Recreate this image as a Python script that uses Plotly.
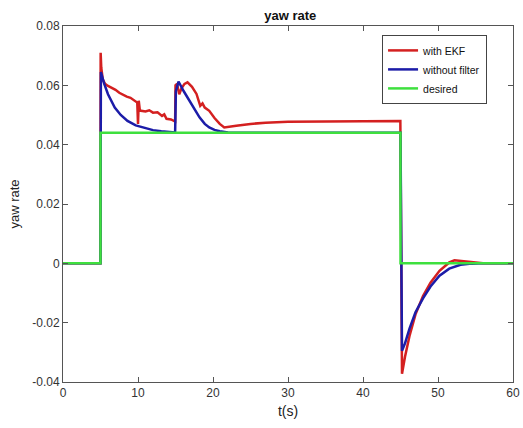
import plotly.graph_objects as go

# ---- data ----
t_ekf = [0, 4.99, 5.02, 5.1, 5.3, 5.6, 6.0, 6.5, 7.0, 7.5, 8.0, 8.5, 9.0, 9.5, 9.9, 10.0, 10.1, 10.25,
         10.6, 11.0, 11.5, 12.0, 12.6, 13.2, 13.5, 13.8, 14.4, 14.95, 15.0, 15.2, 15.5, 15.8, 16.2, 16.6,
         17.2, 17.8, 18.3, 18.6, 18.9, 19.5, 20.2, 20.9, 21.5, 22.3, 23.1, 25, 27, 30, 35, 40, 44.98,
         45.2, 45.6, 46.2, 47, 48, 49, 50.2, 51, 51.5, 52.2, 53, 54, 55, 56, 60]
y_ekf = [0, 0, 0.071, 0.066, 0.062, 0.0605, 0.0598, 0.0592, 0.0585, 0.0575, 0.0568, 0.0562, 0.0558, 0.0548, 0.0542, 0.047, 0.0548, 0.0515,
         0.0514, 0.0512, 0.0516, 0.0508, 0.0509, 0.0497, 0.0502, 0.0487, 0.0485, 0.0478, 0.0600, 0.0605, 0.0570, 0.0590, 0.0605, 0.0610,
         0.0595, 0.0571, 0.0531, 0.0539, 0.0525, 0.0514, 0.0490, 0.0470, 0.0458, 0.0462, 0.0464, 0.0470, 0.0474, 0.0477, 0.0478, 0.0480, 0.0480,
         -0.0372, -0.0315, -0.0245, -0.0172, -0.0110, -0.0065, -0.0025, -0.0006, 0.0003, 0.0010, 0.0008, 0.0003, 0.0001, 0.0, 0.0]

t_nofilt = [0, 5.0, 5.05, 5.5, 6.0, 6.9, 7.7, 8.6, 9.7, 10.9, 12.0, 13.1, 14.0, 14.95, 15.05, 15.4, 16.1, 16.9,
            17.5, 18.2, 18.9, 19.5, 20.2, 20.9, 22.0, 23.0, 45.0, 45.2, 45.6, 46.2, 47, 48, 49, 50.2, 51.5, 53, 54.5, 56, 60]
y_nofilt = [0, 0, 0.0645, 0.0605, 0.0570, 0.0525, 0.0500, 0.0480, 0.0465, 0.0457, 0.0449, 0.0445, 0.0442, 0.0441, 0.0580, 0.0613, 0.0580, 0.0548,
            0.0520, 0.0492, 0.0470, 0.0458, 0.0450, 0.0445, 0.0441, 0.0440, 0.0440, -0.0295, -0.0270, -0.0220, -0.0165, -0.0118, -0.0078, -0.0042, -0.0018, -0.0005, -0.0001, 0.0, 0.0]

t_des = [0, 5, 5, 45, 45, 60]
y_des = [0, 0, 0.044, 0.044, 0, 0]

x_ticks = [0, 10, 20, 30, 40, 50, 60]
y_ticks = [-0.04, -0.02, 0, 0.02, 0.04, 0.06, 0.08]
y_tick_text = ["-0.04", "-0.02", "0", "0.02", "0.04", "0.06", "0.08"]

# ---- figure ----
fig = go.Figure()
fig.add_trace(go.Scatter(x=t_ekf, y=y_ekf, mode="lines", name="with EKF",
                         line=dict(color="#d42020", width=2.5)))
fig.add_trace(go.Scatter(x=t_nofilt, y=y_nofilt, mode="lines", name="without filter",
                         line=dict(color="#1c1ca8", width=2.5)))
fig.add_trace(go.Scatter(x=t_des, y=y_des, mode="lines", name="desired",
                         line=dict(color="#3ee03e", width=2.5)))

axis_common = dict(showline=True, linecolor="#555555", linewidth=1, mirror="ticks",
                   ticks="inside", ticklen=5, tickcolor="#555555", showgrid=False,
                   zeroline=False, automargin=False, tickfont=dict(size=12, color="#333333"))

fig.update_layout(
    width=523, height=428,
    paper_bgcolor="white", plot_bgcolor="white",
    margin=dict(l=63, r=10, t=26, b=46, autoexpand=False),
    font=dict(family="Liberation Sans, Arial, sans-serif", color="#222222"),
    title=dict(text="<b>yaw rate</b>", x=0.555, xanchor="center", y=1 - 15 / 428, yanchor="middle",
               font=dict(size=13, color="#111111"), automargin=False),
    xaxis=dict(range=[0, 60], tickvals=x_ticks, title=dict(text="t(s)", font=dict(size=14), standoff=6),
               **axis_common),
    yaxis=dict(range=[-0.04, 0.08], tickvals=y_ticks, ticktext=y_tick_text,
               title=dict(text="yaw rate", font=dict(size=13), standoff=9), **axis_common),
    legend=dict(x=0.709, y=0.975, xanchor="left", yanchor="top", bgcolor="white",
                bordercolor="#444444", borderwidth=1, font=dict(size=10.5, color="#111111"),
                tracegroupgap=0, itemwidth=30),
    showlegend=True,
)

fig.write_html("out.html", config={"displayModeBar": False},
               post_script="document.body.style.margin='0';document.body.style.overflow='hidden';")
